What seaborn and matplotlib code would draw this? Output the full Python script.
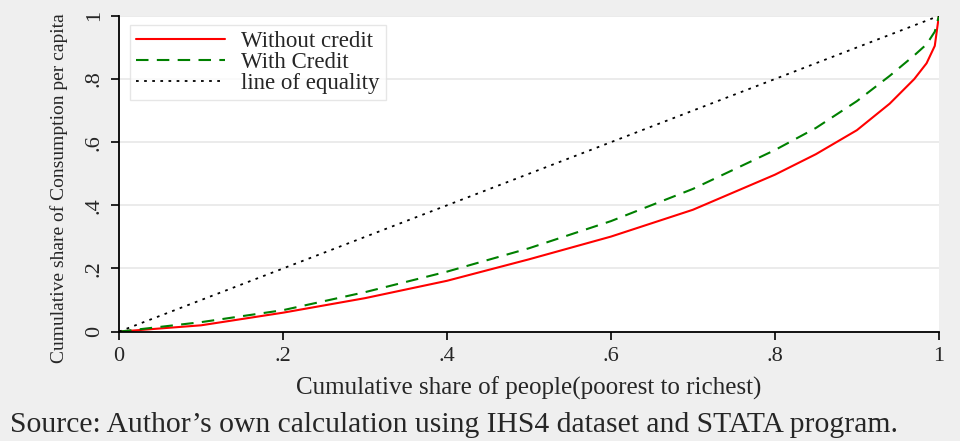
import matplotlib
matplotlib.use("Agg")
import matplotlib.pyplot as plt
import numpy as np
import pandas as pd
import seaborn as sns

# Cumulative population share (poorest to richest)
pop_share = [0.0, 0.1, 0.2, 0.3, 0.4, 0.5, 0.6, 0.7, 0.8, 0.85, 0.9, 0.94, 0.97, 0.985, 0.995, 1.0]
# Cumulative consumption share per capita
without_credit = [0.0, 0.020, 0.060, 0.106, 0.161, 0.229, 0.301, 0.386, 0.497, 0.562, 0.638, 0.722, 0.800, 0.850, 0.905, 1.0]
with_credit = [0.0, 0.030, 0.068, 0.125, 0.190, 0.264, 0.350, 0.452, 0.575, 0.645, 0.730, 0.810, 0.875, 0.910, 0.950, 1.0]
equality_x = [0.0, 1.0]
equality_y = [0.0, 1.0]

x_ticks = [0, 0.2, 0.4, 0.6, 0.8, 1.0]
tick_labels = ["0", ".2", ".4", ".6", ".8", "1"]

sns.set_style("white")
plt.rcParams["font.family"] = ["Liberation Serif", "DejaVu Serif"]

fig = plt.figure(figsize=(9.6, 4.41), dpi=100)
fig.patch.set_facecolor("#efefef")
ax = fig.add_axes([0.124, 0.248, 0.854, 0.716])
ax.set_facecolor("white")

df = pd.DataFrame({"p": pop_share, "without": without_credit, "with": with_credit})
eq = pd.DataFrame({"p": equality_x, "l": equality_y})

sns.lineplot(data=df, x="p", y="without", ax=ax, color="#ff0000", lw=1.5,
             label="Without credit")
sns.lineplot(data=df, x="p", y="with", ax=ax, color="#008000", lw=1.5,
             label="With Credit")
ax.lines[-1].set_dashes([6, 4])
sns.lineplot(data=eq, x="p", y="l", ax=ax, color="black", lw=1.3,
             label="line of equality")
ax.lines[-1].set_dashes([1.5, 3])

ax.set_xlim(0, 1)
ax.set_ylim(0, 1)
ax.set_xticks(x_ticks)
ax.set_xticklabels(tick_labels, fontsize=16)
ax.set_yticks(x_ticks)
ax.set_yticklabels(tick_labels, fontsize=16, rotation=90, va="center")
ax.tick_params(axis="both", direction="out", length=6, width=1.2, color="black",
               pad=5, left=True, bottom=True)

for y in x_ticks[1:]:
    ax.axhline(y, color="#e8e8e8", lw=1.2, zorder=0)

for side in ["top", "right"]:
    ax.spines[side].set_visible(False)
for side in ["left", "bottom"]:
    ax.spines[side].set_color("black")
    ax.spines[side].set_linewidth(1.3)

ax.set_xlabel("Cumulative share of people(poorest to richest)", fontsize=18, labelpad=8)
ax.set_ylabel("Cumulative share of Consumption per capita", fontsize=14)
ax.yaxis.set_label_coords(-0.062, 0.455)

leg = ax.legend(loc="upper left", bbox_to_anchor=(0.008, 0.985), fontsize=16.5,
                frameon=True, fancybox=False, handlelength=3.9, handletextpad=0.7,
                borderpad=0.25, labelspacing=0.0, borderaxespad=0.2)
leg.get_frame().set_edgecolor("#e0e0e0")
leg.get_frame().set_linewidth(1.0)

fig.text(0.010, 0.0204, "Source: Author\u2019s own calculation using IHS4 dataset and STATA program.",
         fontsize=21.3, ha="left", va="baseline")

fig.savefig("out.png", dpi=100, facecolor=fig.get_facecolor())
